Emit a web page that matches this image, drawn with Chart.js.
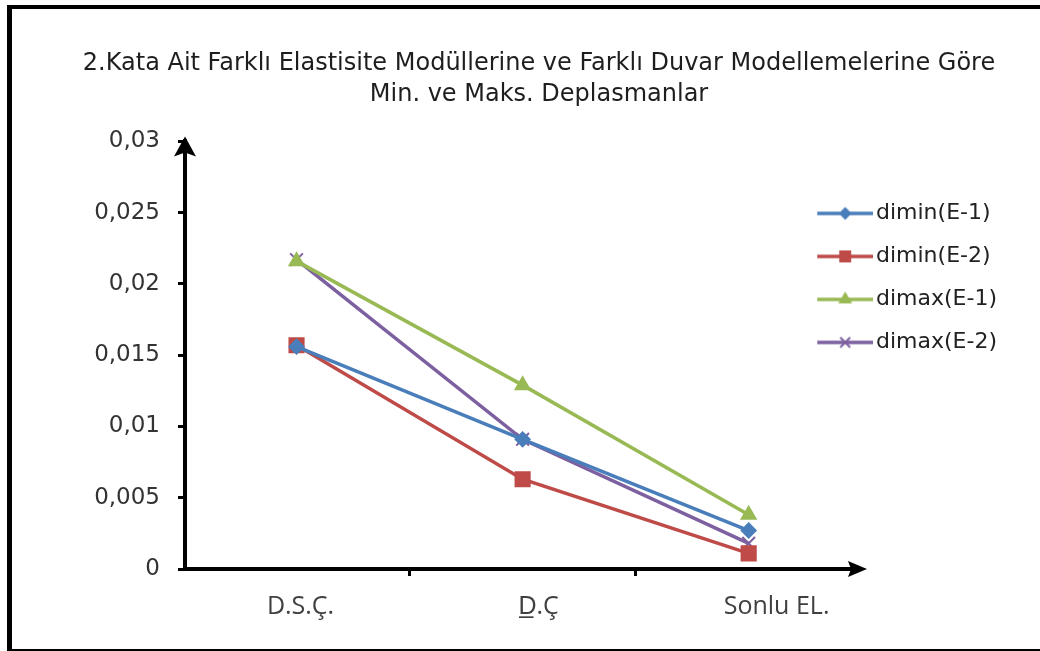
<!DOCTYPE html>
<html>
<head>
<meta charset="utf-8">
<script src="https://cdn.jsdelivr.net/npm/chart.js@4.4.1/dist/chart.umd.min.js"></script>
<style>
  html, body { margin: 0; padding: 0; background: #fff; }
  #wrap { position: relative; width: 1040px; height: 651px; overflow: hidden; background: #fff; }
  #frame {
    position: absolute; left: 7px; top: 5px; width: 1100px; height: 640px;
    border-left: 5px solid #000; border-top: 4px solid #000; border-bottom: 2px solid #000;
  }
  #c { position: absolute; left: 0; top: 0; }
</style>
</head>
<body>
<div id="wrap">
  <div id="frame"></div>
  <canvas id="c" width="1040" height="651"></canvas>
</div>
<script>
// Categories along the horizontal axis
const categories = ['D.S.Ç.', 'D\u0332.Ç', 'Sonlu EL.'];

// Series names and values (m)
const seriesNames = ['dimin(E-1)', 'dimin(E-2)', 'dimax(E-1)', 'dimax(E-2)'];
const diminE1 = [0.0156, 0.0091, 0.0027];
const diminE2 = [0.0157, 0.0063, 0.0011];
const dimaxE1 = [0.0216, 0.0129, 0.0038];
const dimaxE2 = [0.0217, 0.0091, 0.0018];

// Value axis range
const yMin = 0;
const yMax = 0.03;
const yStep = 0.005;

const titleLines = [
  '2.Kata Ait Farklı Elastisite Modüllerine ve Farklı Duvar Modellemelerine Göre',
  'Min. ve Maks. Deplasmanlar'
];

const seriesValues = [diminE1, diminE2, dimaxE1, dimaxE2];
const colors = ['#4A7EBB', '#BE4B48', '#98B954', '#7D60A0'];
const markers = ['rectRot', 'rect', 'triangle', 'crossRot'];
const markerRadius = [7, 10, 8, 9];
const legendMarkerRadius = [5, 7, 6, 7];

const AXIS_LEFT = 185;      // y-axis line position
const PAD_LEFT = 71;
const PAD_RIGHT = 33;

// Legend icons: a short line with the series marker in the middle
function legendIcon(i) {
  const cv = document.createElement('canvas');
  cv.width = 64; cv.height = 24;
  const g = cv.getContext('2d');
  g.strokeStyle = colors[i];
  g.lineWidth = 3.5;
  g.beginPath(); g.moveTo(8, 12); g.lineTo(64, 12); g.stroke();
  g.fillStyle = colors[i];
  g.strokeStyle = colors[i];
  g.lineWidth = 2;
  Chart.helpers.drawPoint(g, { pointStyle: markers[i], radius: legendMarkerRadius[i], rotation: 0, borderWidth: 2 }, 36, 12);
  return cv;
}
const legendIcons = seriesNames.map((_, i) => legendIcon(i));

const datasets = seriesNames.map((name, i) => ({
  label: name,
  data: seriesValues[i].map((v, k) => ({ x: k, y: v })),
  borderColor: colors[i],
  backgroundColor: colors[i],
  borderWidth: 3.5,
  pointStyle: markers[i],
  pointRadius: markerRadius[i],
  pointHoverRadius: markerRadius[i],
  pointBorderWidth: 2,
  pointBackgroundColor: colors[i],
  pointBorderColor: colors[i],
  tension: 0,
  xAxisID: 'x',
  yAxisID: 'y'
}));

// Axis arrows and the x-axis run-out past the plot area
const axisArrows = {
  id: 'axisArrows',
  afterDraw(chart) {
    const { ctx, chartArea } = chart;
    const y0 = chart.scales.y.getPixelForValue(0);
    const x0 = chartArea.left;
    ctx.save();
    ctx.strokeStyle = '#000';
    ctx.fillStyle = '#000';
    ctx.lineWidth = 4;
    ctx.beginPath();
    ctx.moveTo(chartArea.right - 2, y0);
    ctx.lineTo(852, y0);
    ctx.stroke();
    ctx.beginPath();
    ctx.moveTo(x0, chartArea.top + 2);
    ctx.lineTo(x0, chartArea.top - 2);
    ctx.stroke();
    // right arrow head
    ctx.beginPath();
    ctx.moveTo(867, y0);
    ctx.lineTo(848, y0 - 8);
    ctx.lineTo(851, y0);
    ctx.lineTo(848, y0 + 8);
    ctx.closePath();
    ctx.fill();
    // up arrow head
    ctx.beginPath();
    ctx.moveTo(x0, chartArea.top - 5);
    ctx.lineTo(x0 + 11, chartArea.top + 15);
    ctx.lineTo(x0, chartArea.top + 11);
    ctx.lineTo(x0 - 11, chartArea.top + 15);
    ctx.closePath();
    ctx.fill();
    ctx.restore();
  }
};

new Chart(document.getElementById('c'), {
  type: 'line',
  data: { datasets },
  plugins: [axisArrows],
  options: {
    responsive: false,
    animation: false,
    events: [],
    layout: { padding: { left: PAD_LEFT, right: PAD_RIGHT, top: 0, bottom: 0 } },
    plugins: {
      title: {
        display: true,
        text: titleLines,
        color: '#1e1e1e',
        font: { family: 'DejaVu Sans, sans-serif', size: 24, weight: 'normal', lineHeight: 1.3 },
        padding: { top: 48, bottom: 31 }
      },
      legend: {
        display: true,
        position: 'right',
        align: 'start',
        fullSize: false,
        title: { display: true, text: '', font: { size: 10, lineHeight: 1.2 }, padding: { top: 28, bottom: 0 } },
        labels: {
          usePointStyle: true,
          pointStyleWidth: 47.5,
          padding: 21,
          color: '#222',
          font: { family: 'DejaVu Sans, sans-serif', size: 22 },
          generateLabels(chart) {
            return Chart.defaults.plugins.legend.labels.generateLabels(chart).map(item => ({
              ...item,
              pointStyle: legendIcons[item.datasetIndex]
            }));
          }
        }
      },
      tooltip: { enabled: false }
    },
    scales: {
      // data axis: draws the axis line and the tick marks between categories
      x: {
        type: 'linear',
        position: 'bottom',
        min: -0.4934,
        max: 2.2115,
        afterBuildTicks(scale) {
          scale.ticks = categories.map((_, i) => ({ value: i }));
        },
        afterFit(scale) { scale.height = 7; },
        border: { display: true, color: '#000', width: 4 },
        grid: {
          offset: true,
          drawOnChartArea: false,
          drawTicks: true,
          tickLength: 7,
          tickWidth: 3,
          tickColor: '#000'
        },
        ticks: { display: false }
      },
      // category names under the axis
      xl: {
        type: 'linear',
        position: 'bottom',
        min: -0.4854,
        max: 2.0836,
        afterBuildTicks(scale) {
          scale.ticks = categories.map((_, i) => ({ value: i }));
        },
        afterFit(scale) { scale.height = 75; },
        border: { display: false },
        grid: { display: false, drawTicks: false },
        ticks: {
          autoSkip: false,
          maxRotation: 0,
          padding: 16,
          color: '#404040',
          font: { family: 'Open Sans, sans-serif', size: 25 },
          callback: (v, i) => categories[i]
        }
      },
      y: {
        type: 'linear',
        position: 'left',
        min: yMin,
        max: yMax,
        afterFit(scale) { scale.width = AXIS_LEFT - PAD_LEFT; },
        border: { display: true, color: '#000', width: 4 },
        grid: {
          drawOnChartArea: false,
          drawTicks: true,
          tickLength: 7,
          tickWidth: 3,
          tickColor: '#000'
        },
        ticks: {
          stepSize: yStep,
          padding: 18,
          color: '#333',
          font: { family: 'DejaVu Sans, sans-serif', size: 23 },
          callback: (v) => String(+v.toFixed(3)).replace('.', ',')
        }
      }
    }
  }
});
</script>
</body>
</html>
